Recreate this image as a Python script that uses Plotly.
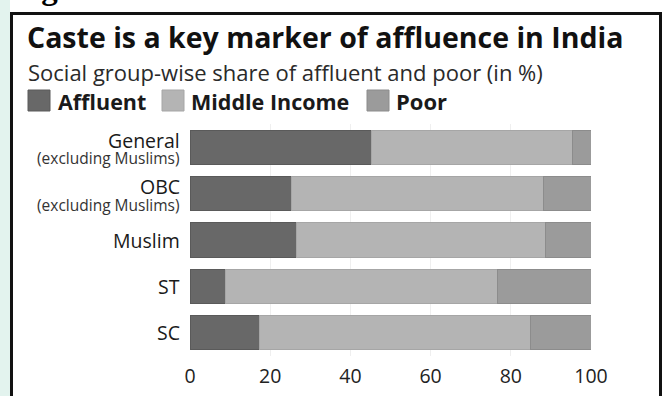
import plotly.graph_objects as go

categories = ["General", "OBC", "Muslim", "ST", "SC"]
sublabels = ["(excluding Muslims)", "(excluding Muslims)", "", "", ""]
affluent = [45.2, 25.2, 26.5, 8.9, 17.3]
middle = [50.3, 63.0, 62.2, 67.7, 67.7]
poor = [4.5, 11.8, 11.3, 23.4, 15.0]
series_names = ["Affluent", "Middle Income", "Poor"]
x_ticks = [0, 20, 40, 60, 80, 100]

colors = ["#686868", "#b4b4b4", "#9b9b9b"]
edges = ["#5a5a5a", "#a6a6a6", "#8c8c8c"]

W, H = 670, 396
L, R, T, B = 190, 79, 124, 40
pw, ph = W - L - R, H - T - B


def px(x):
    return (x - L) / pw


def py(y):
    return (H - B - y) / ph


fig = go.Figure()
for name, vals, col, ec in zip(series_names, [affluent, middle, poor], colors, edges):
    fig.add_trace(go.Bar(
        y=categories, x=vals, name=name, orientation="h",
        marker=dict(color=col, line=dict(color=ec, width=1)),
        showlegend=False,
    ))

shapes = []
annotations = []
# outer frame
shapes.append(dict(type="rect", xref="paper", yref="paper",
                   x0=px(11.5), x1=px(660.5), y0=py(13.5), y1=py(410),
                   line=dict(color="#111", width=3), fillcolor="rgba(0,0,0,0)", layer="above"))
# faint mint strip outside frame on the left
shapes.append(dict(type="rect", xref="paper", yref="paper",
                   x0=px(0), x1=px(10), y0=py(0), y1=py(396),
                   line=dict(width=0), fillcolor="#e3f3ee", layer="below"))

# category labels (as annotations so two-line labels can be spaced like the original)
for c, s in zip(categories, sublabels):
    if s:
        annotations.append(dict(text=c, xref="paper", yref="y", x=px(182), y=c,
                                xanchor="right", yanchor="middle", yshift=7,
                                showarrow=False, font=dict(size=19.5, color="#1a1a1a")))
        annotations.append(dict(text=s, xref="paper", yref="y", x=px(182), y=c,
                                xanchor="right", yanchor="middle", yshift=-11,
                                showarrow=False, font=dict(size=15.5, color="#333")))
    else:
        annotations.append(dict(text=c, xref="paper", yref="y", x=px(182), y=c,
                                xanchor="right", yanchor="middle",
                                showarrow=False, font=dict(size=19.5, color="#1a1a1a")))

# legend drawn manually
leg = [(28, 50, 56, "Affluent", 21.5), (162, 184, 189, "Middle Income", 21.5),
       (367, 389, 394, "Poor", 22)]
for (x0, x1, tx, lab, fs), col, ec in zip(leg, colors, edges):
    shapes.append(dict(type="rect", xref="paper", yref="paper",
                       x0=px(x0), x1=px(x1), y0=py(111), y1=py(90),
                       fillcolor=col, line=dict(color=ec, width=1)))
    annotations.append(dict(text=f"<b>{lab}</b>", xref="paper", yref="paper",
                            x=px(tx), y=py(101), xanchor="left", yanchor="middle",
                            showarrow=False, font=dict(size=fs, color="#1a1a1a")))

annotations.append(dict(text="<b>Caste is a key marker of affluence in India</b>",
                        xref="paper", yref="paper", x=px(25), y=py(37),
                        xanchor="left", yanchor="middle", showarrow=False,
                        font=dict(size=28.5, color="#111")))
annotations.append(dict(text="Social group-wise share of affluent and poor (in %)",
                        xref="paper", yref="paper", x=px(26), y=py(72),
                        xanchor="left", yanchor="middle", showarrow=False,
                        font=dict(size=22, color="#2a2a2a")))
annotations.append(dict(text="<b>Figure :</b>", xref="paper", yref="paper",
                        x=px(10), y=py(8), xanchor="left", yanchor="bottom",
                        showarrow=False,
                        font=dict(size=33, color="#000", family="Liberation Serif")))

fig.update_layout(
    width=W, height=H,
    margin=dict(l=L, r=R, t=T, b=B, pad=0, autoexpand=False),
    barmode="stack", bargap=0.26,
    plot_bgcolor="white", paper_bgcolor="white",
    font=dict(family="Open Sans", color="#1a1a1a"),
    shapes=shapes, annotations=annotations,
    xaxis=dict(range=[0, 100], tickvals=x_ticks, ticktext=[str(v) for v in x_ticks],
               showgrid=True, gridcolor="#efefef", zeroline=False, showline=False,
               ticks="outside", ticklen=3, tickcolor="rgba(0,0,0,0)",
               automargin=False,
               tickfont=dict(size=19.5, color="#222"), fixedrange=True),
    yaxis=dict(categoryorder="array", categoryarray=categories[::-1],
               showticklabels=False, automargin=False,
               showgrid=False, zeroline=False, showline=False, ticks=""),
)

fig.write_html("out.html")
